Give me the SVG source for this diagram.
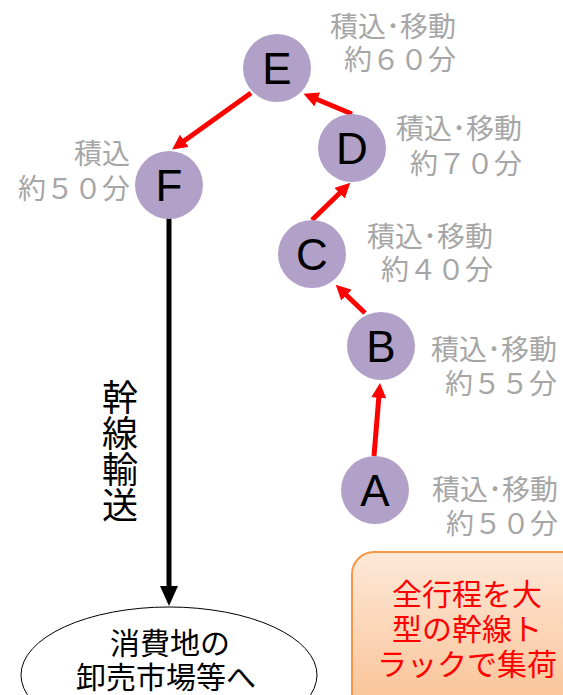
<svg xmlns="http://www.w3.org/2000/svg" width="563" height="695" viewBox="0 0 563 695">
<style>
.nd{fill:#b1a0c7;}
.lt{font-family:"Liberation Sans",sans-serif;font-size:44px;fill:#000;text-anchor:middle;}
.lb{font-family:"Noto Sans CJK JP",sans-serif;font-size:28px;fill:#a6a6a6;text-anchor:end;}
.red{stroke:#ff0000;stroke-width:5;fill:none;}
.jp{font-family:"Noto Sans CJK JP",sans-serif;fill:#000;text-anchor:middle;}
.bx{font-family:"Noto Sans CJK JP",sans-serif;font-size:30px;fill:#ff0000;text-anchor:middle;}
</style>
<defs>
<marker id="ra" viewBox="0 0 10 10" markerUnits="userSpaceOnUse" markerWidth="15" markerHeight="15" refX="6" refY="5" orient="auto">
<path d="M0,0 L10,5 L0,10 z" fill="#ff0000"/>
</marker>
<marker id="ba" viewBox="0 0 10 10" markerUnits="userSpaceOnUse" markerWidth="20" markerHeight="20" refX="5" refY="5" orient="auto">
<path d="M0,0.5 L10,5 L0,9.5 z" fill="#000"/>
</marker>
<linearGradient id="og" x1="0" y1="0" x2="0" y2="1">
<stop offset="0" stop-color="#fde9d9"/>
<stop offset="1" stop-color="#fabf8f"/>
</linearGradient>
</defs>

<g id="connectors">
<line class="red" x1="374" y1="456" x2="379.5" y2="389" marker-end="url(#ra)"/>
<line class="red" x1="365" y1="313" x2="340" y2="289" marker-end="url(#ra)"/>
<line class="red" x1="312" y1="220" x2="346" y2="187" marker-end="url(#ra)"/>
<line class="red" x1="352" y1="114" x2="309" y2="96" marker-end="url(#ra)"/>
<line class="red" x1="251" y1="93" x2="177" y2="146" marker-end="url(#ra)"/>
<line x1="169" y1="218" x2="169" y2="596" stroke="#000" stroke-width="5" marker-end="url(#ba)"/>
</g>

<g id="nodeE"><circle class="nd" cx="277" cy="68" r="34"/><text class="lt" x="277" y="84">E</text>
<text class="lb" x="456" y="37">積込･移動<tspan x="456" dy="33">約６０分</tspan></text></g>
<g id="nodeD"><circle class="nd" cx="352" cy="148" r="34"/><text class="lt" x="352" y="164">D</text>
<text class="lb" x="522" y="139">積込･移動<tspan x="522" dy="35">約７０分</tspan></text></g>
<g id="nodeF"><circle class="nd" cx="169" cy="185" r="34"/><text class="lt" x="169" y="201">F</text>
<text class="lb" x="130" y="164">積込<tspan x="130" dy="35">約５０分</tspan></text></g>
<g id="nodeC"><circle class="nd" cx="312" cy="254" r="34"/><text class="lt" x="312" y="270">C</text>
<text class="lb" x="493" y="247">積込･移動<tspan x="493" dy="33">約４０分</tspan></text></g>
<g id="nodeB"><circle class="nd" cx="381" cy="346" r="34"/><text class="lt" x="381" y="362">B</text>
<text class="lb" x="557" y="360">積込･移動<tspan x="557" dy="34">約５５分</tspan></text></g>
<g id="nodeA"><circle class="nd" cx="375" cy="490" r="34"/><text class="lt" x="375" y="506">A</text>
<text class="lb" x="558" y="500">積込･移動<tspan x="558" dy="34">約５０分</tspan></text></g>

<g id="trunk">
<text class="jp" font-size="36" x="120" y="379" writing-mode="vertical-rl" style="text-anchor:start">幹線輸送</text>
</g>

<g id="market">
<ellipse cx="169" cy="675" rx="148" ry="68" fill="#fff" stroke="#000" stroke-width="1"/>
<text class="jp" font-size="30" x="170" y="654">消費地の<tspan x="166" dy="34">卸売市場等へ</tspan></text>
</g>

<g id="note">
<rect x="352" y="552" width="240" height="170" rx="22" fill="url(#og)" stroke="#f79646" stroke-width="2"/>
<text class="bx" x="467" y="605">全行程を大<tspan x="467" dy="35">型の幹線ト</tspan><tspan x="467" dy="35">ラックで集荷</tspan></text>
</g>
</svg>
